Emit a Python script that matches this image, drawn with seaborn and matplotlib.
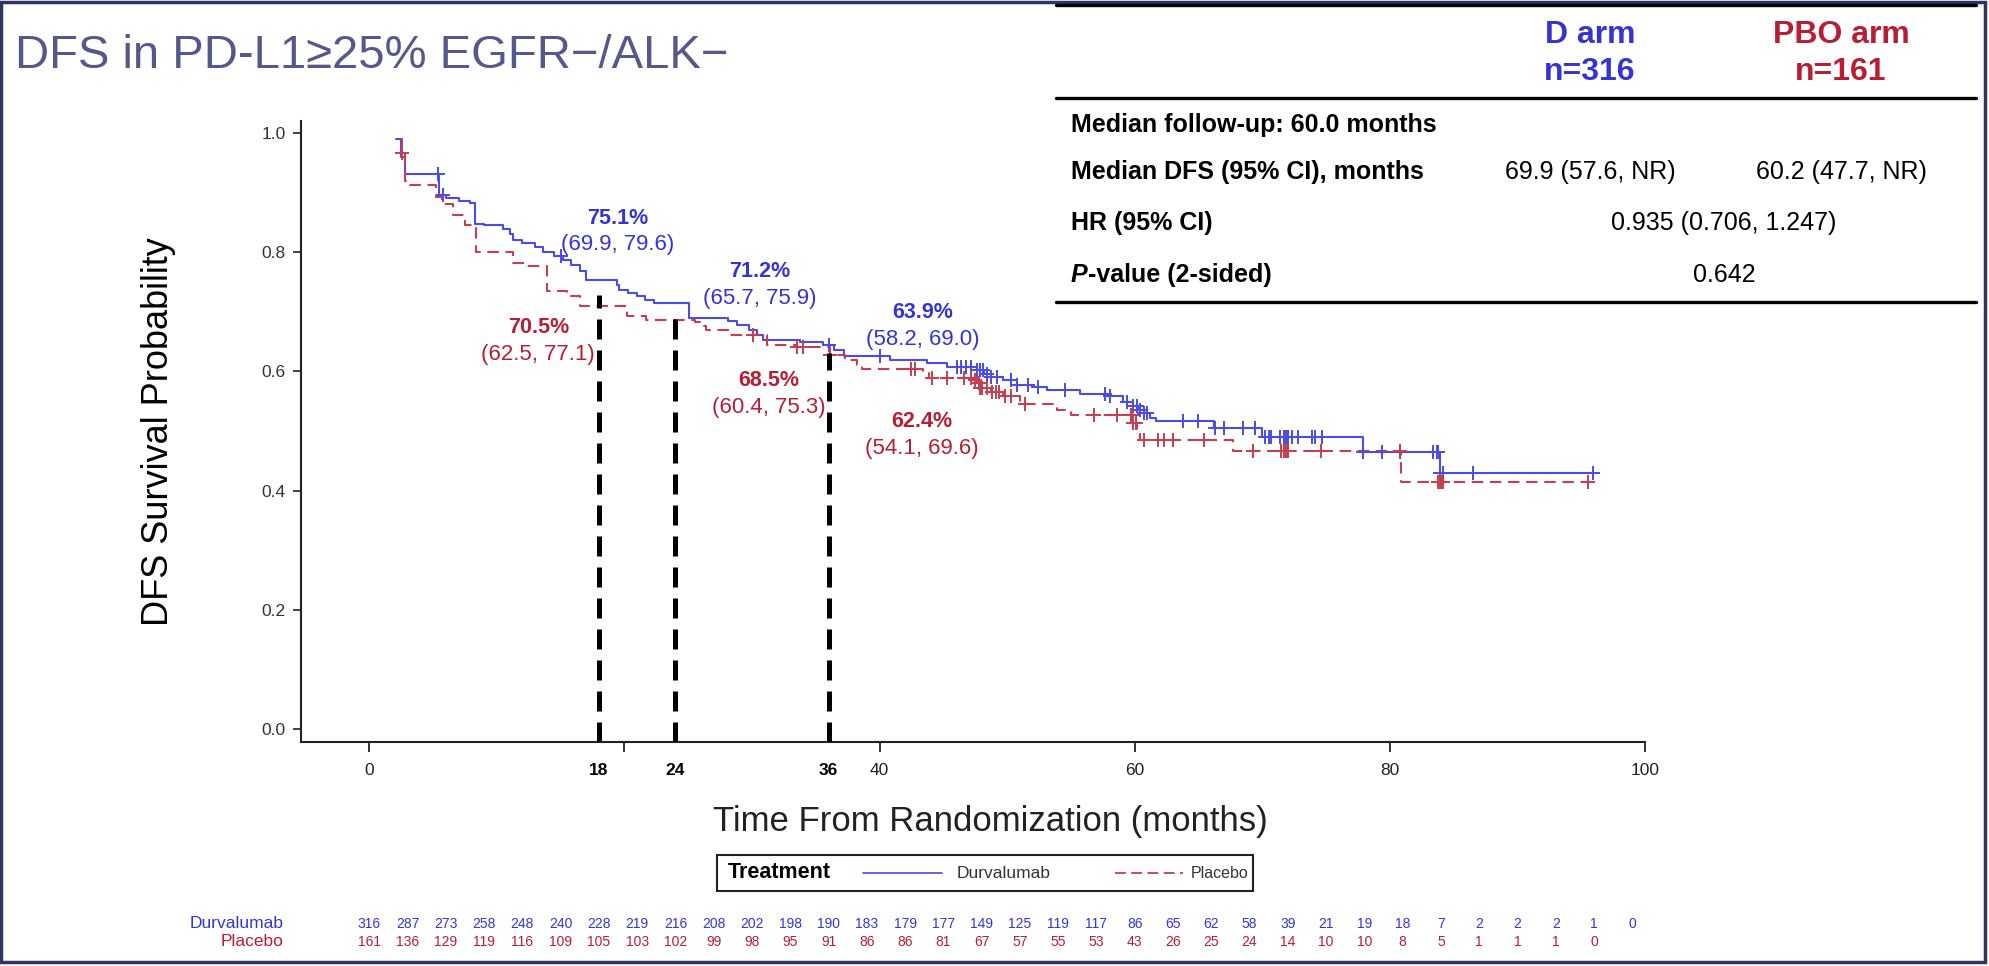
import numpy as np
import pandas as pd
import matplotlib
matplotlib.use("Agg")
import matplotlib.pyplot as plt
from matplotlib import font_manager as fm
from matplotlib.patches import Rectangle
from matplotlib.lines import Line2D
from matplotlib.transforms import blended_transform_factory
import seaborn as sns

# ---------------- data ----------------
arms = ["Durvalumab", "Placebo"]

# Kaplan-Meier steps: month of each drop and survival after it
durva_times = [2.1, 2.5, 2.8, 5.5, 6.0, 7.0, 7.9, 8.3, 9.0, 10.5, 11.0, 11.3, 12.0, 13.0,
               13.6, 14.5, 15.2, 15.8, 16.5, 17.0, 19.4, 19.6, 20.3, 21.0, 21.6, 22.3,
               25.1, 28.1, 28.8, 29.8, 30.4, 30.9, 33.8, 35.6, 36.4, 37.2, 40.8, 43.7,
               45.3, 47.6, 48.2, 48.7, 49.7, 50.8, 52.0, 53.1, 55.7, 57.8, 59.1, 59.9,
               60.3, 60.7, 61.2, 61.7, 66.2, 70.0, 77.9, 83.9]
durva_surv = [0.99, 0.96, 0.931, 0.896, 0.890, 0.886, 0.882, 0.847, 0.845, 0.838, 0.830,
              0.821, 0.815, 0.808, 0.801, 0.794, 0.786, 0.778, 0.768, 0.754, 0.745, 0.736,
              0.731, 0.726, 0.720, 0.714, 0.689, 0.685, 0.678, 0.670, 0.661, 0.653, 0.650,
              0.644, 0.636, 0.626, 0.619, 0.614, 0.607, 0.602, 0.596, 0.591, 0.585, 0.577,
              0.573, 0.569, 0.562, 0.558, 0.549, 0.541, 0.535, 0.530, 0.522, 0.516, 0.505,
              0.489, 0.465, 0.429]
durva_last = 96.1
durva_censored = [5.4, 5.8, 15.0, 36.0, 40.0, 46.1, 46.4, 46.8, 47.2, 47.6, 47.9, 48.1,
                  48.4, 48.7, 49.2, 50.3, 50.8, 51.6, 52.4, 54.5, 57.7, 58.1, 59.4, 59.9,
                  60.2, 60.4, 60.7, 61.0, 63.8, 65.0, 66.3, 67.0, 68.5, 69.4, 70.2, 70.5,
                  70.7, 71.4, 71.7, 71.8, 71.9, 72.0, 72.3, 72.8, 73.9, 74.1, 74.7, 77.9,
                  79.4, 80.8, 83.4, 83.7, 83.8, 83.9, 84.2, 86.5, 95.9]

pbo_times = [2.5, 2.6, 2.8, 3.2, 5.2, 5.7, 6.6, 7.5, 8.3, 8.4, 11.3, 12.2, 13.9, 15.5,
             16.5, 20.2, 21.7, 25.5, 26.2, 26.4, 28.3, 31.2, 33.5, 36.1, 37.3, 38.2, 38.6,
             43.4, 43.9, 47.4, 47.6, 47.9, 48.7, 49.7, 51.0, 53.9, 55.0, 59.9, 60.2, 60.4,
             67.7, 80.9]
pbo_surv = [0.99, 0.966, 0.919, 0.913, 0.893, 0.880, 0.863, 0.846, 0.840, 0.801, 0.782,
            0.776, 0.734, 0.726, 0.709, 0.692, 0.686, 0.682, 0.676, 0.670, 0.661, 0.644,
            0.640, 0.628, 0.619, 0.611, 0.604, 0.597, 0.589, 0.586, 0.580, 0.572, 0.566,
            0.558, 0.545, 0.535, 0.527, 0.513, 0.496, 0.485, 0.467, 0.415]
pbo_last = 96.0
pbo_censored = [2.6, 30.1, 33.5, 34.0, 36.1, 42.5, 42.8, 44.1, 45.3, 46.6, 47.2, 47.5,
                47.8, 47.9, 48.0, 48.4, 48.8, 49.1, 49.4, 49.8, 50.3, 51.4, 56.8, 58.6,
                59.7, 59.8, 59.9, 60.1, 60.7, 61.8, 62.3, 63.0, 65.4, 69.3, 71.5, 71.7,
                71.8, 71.9, 72.0, 74.6, 80.8, 83.8, 83.9, 84.0, 84.2, 95.5]

# landmark DFS rates (%) with 95% CI
landmark_months = [18, 24, 36]
durva_rate = [75.1, 71.2, 63.9]
durva_ci_lo = [69.9, 65.7, 58.2]
durva_ci_hi = [79.6, 75.9, 69.0]
pbo_rate = [70.5, 68.5, 62.4]
pbo_ci_lo = [62.5, 60.4, 54.1]
pbo_ci_hi = [77.1, 75.3, 69.6]

# numbers at risk, every 3 months
risk_step = 3
durva_at_risk = [316, 287, 273, 258, 248, 240, 228, 219, 216, 208, 202, 198, 190, 183, 179,
                 177, 149, 125, 119, 117, 86, 65, 62, 58, 39, 21, 19, 18, 7, 2, 2, 2, 1, 0]
pbo_at_risk = [161, 136, 129, 119, 116, 109, 105, 103, 102, 99, 98, 95, 91, 86, 86, 81, 67,
               57, 55, 53, 43, 26, 25, 24, 14, 10, 10, 8, 5, 1, 1, 1, 0]

# summary table
title = "DFS in PD-L1\u226525% EGFR\u2212/ALK\u2212"
arm_headers = ["D arm", "PBO arm"]
arm_n = [316, 161]
followup_text = "Median follow-up: 60.0 months"
median_dfs = ["69.9 (57.6, NR)", "60.2 (47.7, NR)"]
hr_text = "0.935 (0.706, 1.247)"
p_text = "0.642"

x_ticks = [0, 20, 40, 60, 80, 100]
y_ticks = [0.0, 0.2, 0.4, 0.6, 0.8, 1.0]

# ---------------- style ----------------
sns.set_theme(style="ticks")
avail = {f.name for f in fm.fontManager.ttflist}


def pick(*names):
    for n in names:
        if n in avail:
            return n
    return "DejaVu Sans"


SANS = pick("Liberation Sans", "Arimo", "DejaVu Sans")
NARROW = pick("Liberation Sans Narrow", "Arial Narrow", SANS)
HAS_NARROW = "Narrow" in NARROW
plt.rcParams["font.family"] = [SANS, "DejaVu Sans"]
plt.rcParams["axes.linewidth"] = 1.5

BLUE = "#3434d6"
RED = "#b81d33"
BLUE_LINE = "#4b4be6"
RED_LINE = "#c63e4f"
TITLE_C = "#55588a"
FRAME_C = "#2e3563"

W, H = 1990, 966
fig = plt.figure(figsize=(W / 100, H / 100), dpi=100)
fig.patch.set_facecolor("white")


def fx(px):
    return px / W


def fy(py):
    return 1 - py / H


ax = fig.add_axes([fx(301), fy(742), fx(1645) - fx(301), fy(121) - fy(742)])
ax.set_facecolor("white")

# ---------------- survival curves ----------------
frames = []
for arm, t, s, last in [(arms[0], durva_times, durva_surv, durva_last),
                        (arms[1], pbo_times, pbo_surv, pbo_last)]:
    frames.append(pd.DataFrame({"arm": arm,
                                "month": list(t) + [last],
                                "surv": list(s) + [s[-1]]}))
curves = pd.concat(frames, ignore_index=True)

palette = {arms[0]: BLUE_LINE, arms[1]: RED_LINE}
sns.lineplot(data=curves, x="month", y="surv", hue="arm", style="arm",
             palette=palette, dashes={arms[0]: "", arms[1]: (5.5, 3.2)},
             estimator=None, sort=False, drawstyle="steps-post",
             linewidth=1.5, legend=False, ax=ax)


def step_value(times, surv, at):
    idx = np.searchsorted(np.asarray(times), at, side="right") - 1
    return np.asarray(surv)[idx]


cens = pd.concat([
    pd.DataFrame({"arm": arms[0], "month": durva_censored,
                  "surv": step_value(durva_times, durva_surv, durva_censored)}),
    pd.DataFrame({"arm": arms[1], "month": pbo_censored,
                  "surv": step_value(pbo_times, pbo_surv, pbo_censored)}),
], ignore_index=True)
for arm in arms:
    sub = cens[cens["arm"] == arm]
    sns.scatterplot(data=sub, x="month", y="surv", marker="+", s=90,
                    color=palette[arm], linewidth=1.4, legend=False, ax=ax, zorder=3)

# ---------------- landmark lines and labels ----------------
ylo, yhi = -0.022, 1.02
tops = [(d + p) / 200 for d, p in zip(durva_rate, pbo_rate)]
ax.vlines(landmark_months, ylo, tops, colors="black", linewidth=3.6,
          linestyles=(0, (4.0, 2.2)), zorder=4)

durva_label_pos = [(19.5, 0.857), (30.6, 0.768), (43.4, 0.698)]
pbo_label_pos = [(13.25, 0.673), (31.3, 0.584), (43.3, 0.516)]
ci_gap = 0.045
for i in range(len(landmark_months)):
    x, y = durva_label_pos[i]
    ax.text(x, y, f"{durva_rate[i]:.1f}%", color=BLUE, fontsize=15.5,
            fontweight="bold", ha="center", va="center")
    ax.text(x, y - ci_gap, f"({durva_ci_lo[i]:.1f}, {durva_ci_hi[i]:.1f})",
            color=BLUE, fontsize=16, ha="center", va="center")
    x, y = pbo_label_pos[i]
    ax.text(x, y, f"{pbo_rate[i]:.1f}%", color=RED, fontsize=15.5,
            fontweight="bold", ha="center", va="center")
    ax.text(x, y - ci_gap, f"({pbo_ci_lo[i]:.1f}, {pbo_ci_hi[i]:.1f})",
            color=RED, fontsize=16, ha="center", va="center")

# ---------------- axes ----------------
ax.set_xlim(-5.35, 100)
ax.set_ylim(ylo, yhi)
sns.despine(ax=ax)
ax.spines["left"].set_color("#222222")
ax.spines["bottom"].set_color("#222222")

ax.set_xticks(x_ticks)
ax.set_xticklabels(["" if v == 20 else str(v) for v in x_ticks])
ax.set_xticks(landmark_months, minor=True)
ax.set_xticklabels([str(m) for m in landmark_months], minor=True)
ax.set_yticks(y_ticks)
ax.set_yticklabels([f"{v:.1f}" for v in y_ticks])

tick_fs = 14 if HAS_NARROW else 12.5
ax.tick_params(axis="x", which="major", length=7, width=1.3, pad=8,
               labelsize=tick_fs, colors="#222222", direction="out")
ax.tick_params(axis="x", which="minor", length=0, pad=15,
               labelsize=tick_fs, labelcolor="black")
ax.tick_params(axis="y", length=6, width=1.3, pad=5,
               labelsize=tick_fs, colors="#333333", direction="out")
for lab in ax.get_xticklabels() + ax.get_xticklabels(minor=True) + ax.get_yticklabels():
    lab.set_fontfamily([NARROW, "DejaVu Sans"])
for lab in ax.get_xticklabels(minor=True):
    lab.set_fontweight("bold")

ax.set_xlabel("Time From Randomization (months)", fontsize=25, color="#222222")
ax.xaxis.label.set_va("center")
ax.xaxis.set_label_coords((990 - 301) / 1344, (742 - 822) / 621)
ax.set_ylabel("DFS Survival Probability", fontsize=26, color="black")
ax.yaxis.label.set_va("center")
ax.yaxis.set_label_coords((159 - 301) / 1344, 0.5)

# ---------------- numbers at risk ----------------
trans = blended_transform_factory(ax.transData, fig.transFigure)
risk_fs = 11.5 if HAS_NARROW else 10
for row_y, arm, counts, col in [(924, arms[0], durva_at_risk, BLUE),
                                (942, arms[1], pbo_at_risk, RED)]:
    fig.text(fx(284), fy(row_y), arm, ha="right", va="center",
             fontsize=12.5, color=col)
    for k, n in enumerate(counts):
        ax.text(k * risk_step, fy(row_y), str(n), transform=trans, ha="center",
                va="center", fontsize=risk_fs, color=col,
                family=[NARROW, "DejaVu Sans"], clip_on=False)

# ---------------- legend ----------------
fig.add_artist(Rectangle((fx(717), fy(891)), fx(1253) - fx(717), fy(855) - fy(891),
                         transform=fig.transFigure, facecolor="white",
                         edgecolor="#222222", linewidth=1.5))
fig.text(fx(728), fy(873), "Treatment", ha="left", va="center", fontsize=15.5,
         fontweight="bold", color="black")
fig.add_artist(Line2D([fx(863), fx(942)], [fy(873), fy(873)], color=BLUE_LINE,
                      linewidth=1.2, transform=fig.transFigure))
fig.text(fx(957), fy(873), arms[0], ha="left", va="center", fontsize=12.5, color="#333333")
fig.add_artist(Line2D([fx(1115), fx(1183)], [fy(873), fy(873)], color=RED_LINE,
                      linewidth=1.3, linestyle=(0, (6, 3)), transform=fig.transFigure))
fig.text(fx(1191), fy(873), arms[1], ha="left", va="center", fontsize=11.5, color="#333333")

# ---------------- title ----------------
fig.text(fx(15), fy(68), title, ha="left", va="baseline",
         fontsize=42 if HAS_NARROW else 34, color=TITLE_C,
         family=[NARROW, "DejaVu Sans"])

# ---------------- summary table ----------------
for yy in (5, 98, 302):
    fig.add_artist(Line2D([fx(1056), fx(1976)], [fy(yy), fy(yy)], color="black",
                          linewidth=2.4, transform=fig.transFigure))
col_x = [1590, 1841]
for cx, head, n, col in zip(col_x, arm_headers, arm_n, [BLUE, RED]):
    fig.text(fx(cx), fy(35), head, ha="center", va="center", fontsize=23,
             fontweight="bold", color=col)
    fig.text(fx(cx), fy(72), f"n={n}", ha="center", va="center", fontsize=23,
             fontweight="bold", color=col)

tbl_fs = 18
fig.text(fx(1071), fy(125), followup_text, ha="left", va="center",
         fontsize=tbl_fs, fontweight="bold", color="black")
fig.text(fx(1071), fy(172), "Median DFS (95% CI), months", ha="left", va="center",
         fontsize=tbl_fs, fontweight="bold", color="black")
for cx, val in zip(col_x, median_dfs):
    fig.text(fx(cx), fy(172), val, ha="center", va="center", fontsize=tbl_fs,
             color="black")
fig.text(fx(1071), fy(223), "HR (95% CI)", ha="left", va="center",
         fontsize=tbl_fs, fontweight="bold", color="black")
fig.text(fx(1724), fy(223), hr_text, ha="center", va="center", fontsize=tbl_fs,
         color="black")
p_lab = fig.text(fx(1071), fy(275), "P", ha="left", va="center", fontsize=tbl_fs,
                 fontweight="bold", fontstyle="italic", color="black")
fig.canvas.draw()
bb = p_lab.get_window_extent(renderer=fig.canvas.get_renderer())
fig.text(bb.x1 / W, fy(275), "-value (2-sided)", ha="left", va="center",
         fontsize=tbl_fs, fontweight="bold", color="black")
fig.text(fx(1724), fy(275), p_text, ha="center", va="center", fontsize=tbl_fs,
         color="black")

# ---------------- slide frame ----------------
fig.add_artist(Rectangle((fx(1.5), fy(962)), fx(1985) - fx(1.5), fy(1.5) - fy(962),
                         transform=fig.transFigure, fill=False,
                         edgecolor=FRAME_C, linewidth=2.5))

fig.savefig("out.png", dpi=100, facecolor="white")
